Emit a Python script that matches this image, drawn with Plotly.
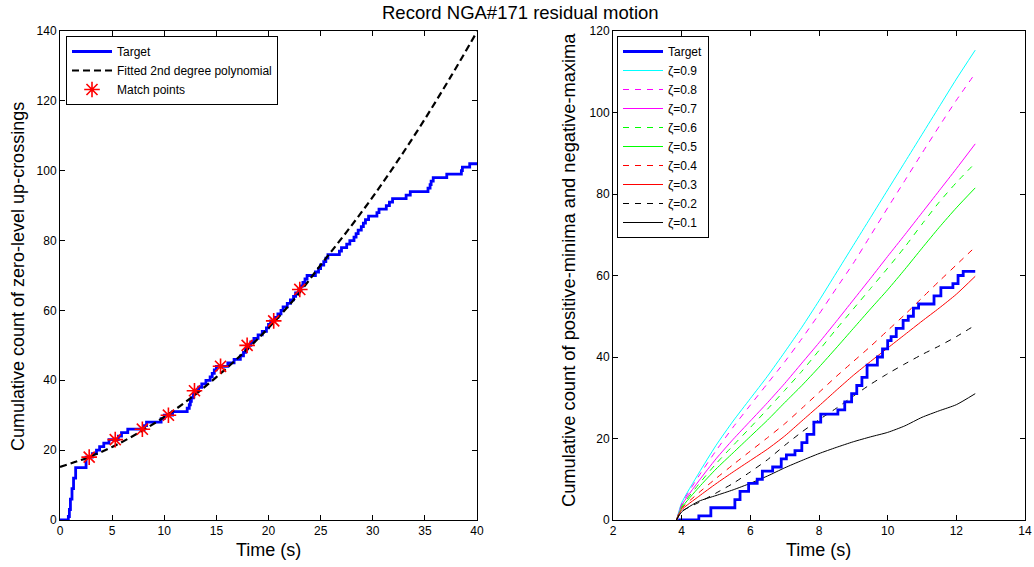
import plotly.graph_objects as go

# ---------------- Left panel data ----------------
target_t = [0, 0.8, 0.9, 1.0, 1.15, 1.3, 1.5, 2.5, 3.1, 3.5, 3.8, 4.2, 4.7, 5.6, 5.9, 6.5,
            8.1, 8.3, 9.7, 10.0, 10.8, 12.2, 12.4, 12.5, 12.6, 12.8, 12.9, 13.3, 13.6, 14.0,
            14.4, 14.6, 14.8, 15.0, 16.1, 16.7, 17.3, 17.6, 17.8, 18.0, 18.3, 18.6, 19.0,
            19.4, 19.8, 20.0, 20.2, 20.6, 20.9, 21.2, 21.4, 21.8, 22.1, 22.4, 22.6, 22.9,
            23.1, 23.3, 23.5, 23.7, 24.5, 24.8, 25.0, 25.3, 25.5, 25.7, 26.8, 27.0, 27.5,
            27.8, 28.2, 28.4, 28.6, 28.9, 29.1, 29.3, 29.6, 30.4, 30.6, 31.3, 31.6, 31.9,
            33.2, 33.6, 35.3, 35.5, 35.6, 35.8, 37.1, 38.5, 38.6, 39.3, 40.0]
target_n = [0, 1, 3, 6, 9, 12, 15, 18, 19, 20, 21, 22, 23, 24, 25, 26,
            27, 28, 29, 30, 31, 32, 33, 34, 35, 36, 37, 38, 39, 40,
            41, 42, 43, 44, 45, 46, 47, 48, 49, 50, 51, 52, 53,
            54, 55, 56, 57, 58, 59, 60, 61, 62, 63, 64, 65, 66,
            67, 68, 69, 70, 71, 72, 73, 74, 75, 76, 77, 78, 79,
            80, 81, 82, 83, 84, 85, 86, 87, 88, 89, 90, 91, 92,
            93, 94, 95, 96, 97, 98, 99, 100, 101, 102, 102]

fit_t = [0, 2.5, 5, 7.5, 10, 12.5, 15, 17.5, 20, 22.5, 25, 27.5, 30, 32.5, 35, 37.5, 40]
fit_n = [15.2, 17.7, 20.9, 24.9, 29.5, 34.8, 40.9, 47.6, 55.0, 63.3, 73.0, 82.5, 92.5,
         103.3, 114.8, 127.0, 139.8]

match_t = [2.8, 5.3, 7.9, 10.4, 12.9, 15.4, 17.95, 20.5, 23.0]
match_n = [18, 23, 26, 30, 37, 44, 50, 57, 66]

# ---------------- Right panel data ----------------
rt_t = [3.9, 4.5, 4.85, 5.55, 5.7, 5.95, 6.2, 6.35, 6.65, 6.9, 7.05, 7.3, 7.5, 7.65, 7.85,
        8.05, 8.55, 8.75, 8.95, 9.1, 9.25, 9.4, 9.7, 9.85, 10.0, 10.1, 10.25, 10.45, 10.6,
        10.75, 10.9, 11.35, 11.55, 11.9, 12.05, 12.2, 12.55]
rt_n = [0, 1, 3, 5, 7, 9, 10, 12, 13, 15, 16, 17, 19, 21, 24,
        26, 27, 29, 31, 33, 35, 38, 40, 42, 44, 45, 47, 49, 50,
        52, 53, 55, 57, 58, 60, 61, 61]

zeta_t = [3.85, 4.0, 4.5, 5.0, 5.5, 6.0, 6.5, 7.0, 7.5, 8.0, 8.5, 9.0, 9.5, 10.0, 10.5,
          11.0, 11.5, 12.0, 12.55]
z09 = [0, 4.2, 11.5, 18.3, 24.3, 29.8, 35.3, 41.2, 47.3, 53.8, 60.6, 67.4, 74.2, 81.0, 87.8, 94.6, 101.4, 108.2, 115.3]
z08 = [0, 3.9, 10.8, 17.0, 22.8, 28.2, 33.5, 38.8, 44.5, 50.5, 56.8, 63.0, 69.8, 76.6, 83.3, 90.0, 96.6, 103.0, 109.6]
z07 = [0, 3.6, 9.6, 15.0, 19.8, 24.3, 28.8, 33.5, 38.5, 43.5, 48.7, 54.0, 59.3, 64.7, 70.0, 75.4, 80.8, 86.2, 92.3]
z06 = [0, 3.3, 8.8, 13.8, 18.3, 22.7, 27.2, 31.8, 36.5, 41.6, 46.8, 51.8, 56.8, 61.8, 67.0, 72.6, 78.0, 82.8, 87.6]
z05 = [0, 3.0, 8.0, 12.5, 16.5, 20.5, 24.5, 28.8, 33.0, 37.5, 42.2, 47.0, 51.8, 56.5, 61.5, 66.7, 71.8, 76.6, 81.5]
z04 = [0, 2.8, 6.7, 10.2, 13.6, 16.9, 20.2, 23.6, 27.4, 31.3, 35.2, 38.9, 42.6, 46.5, 50.4, 54.5, 58.6, 62.6, 67.0]
z03 = [0, 2.5, 5.8, 8.9, 11.8, 14.6, 17.4, 20.6, 24.3, 28.0, 31.8, 35.5, 38.9, 42.2, 45.5, 48.8, 52.0, 55.4, 59.8]
z02 = [0, 2.1, 4.3, 6.6, 9.0, 11.8, 14.8, 18.3, 21.6, 24.6, 27.4, 30.4, 33.3, 35.9, 38.3, 40.6, 42.7, 45.0, 47.8]
z01 = [0, 2.0, 4.6, 6.0, 7.4, 9.0, 10.8, 12.8, 14.6, 16.3, 17.8, 19.2, 20.4, 21.5, 23.1, 25.2, 26.8, 28.3, 31.0]

zeta_labels = ["ζ=0.9", "ζ=0.8", "ζ=0.7", "ζ=0.6", "ζ=0.5", "ζ=0.4", "ζ=0.3", "ζ=0.2", "ζ=0.1"]
zeta_values = [z09, z08, z07, z06, z05, z04, z03, z02, z01]
zeta_colors = ["#00ffff", "#ff00ff", "#ff00ff", "#00ff00", "#00ff00", "#ff0000", "#ff0000", "#000000", "#000000"]
zeta_dash = ["solid", "6px,6px", "solid", "6px,6px", "solid", "6px,6px", "solid", "6px,6px", "solid"]

FONT = "Liberation Sans, Arial, sans-serif"
fig = go.Figure()

# Left panel
fig.add_trace(go.Scatter(x=target_t, y=target_n, mode="lines", line_shape="hv",
                         line=dict(color="#0000ff", width=2.8), name="Target",
                         xaxis="x", yaxis="y", legend="legend"))
fig.add_trace(go.Scatter(x=fit_t, y=fit_n, mode="lines", line_shape="spline",
                         line=dict(color="black", width=2.2, dash="7px,4px"),
                         name="Fitted 2nd degree polynomial",
                         xaxis="x", yaxis="y", legend="legend"))
fig.add_trace(go.Scatter(x=match_t, y=match_n, mode="markers",
                         marker=dict(symbol="asterisk-open", size=13, color="#ff0000",
                                     line=dict(color="#ff0000", width=1.6)),
                         name="Match points", xaxis="x", yaxis="y", legend="legend"))

# Right panel
for i, (lab, vals, col, dsh) in enumerate(zip(zeta_labels, zeta_values, zeta_colors, zeta_dash)):
    fig.add_trace(go.Scatter(x=zeta_t, y=vals, mode="lines",
                             line=dict(color=col, width=1, dash=dsh, shape="spline", smoothing=0.6),
                             name=lab, xaxis="x2", yaxis="y2", legend="legend2", legendrank=10 + i))
fig.add_trace(go.Scatter(x=rt_t, y=rt_n, mode="lines", line_shape="hv",
                         line=dict(color="#0000ff", width=2.8), name="Target",
                         xaxis="x2", yaxis="y2", legend="legend2", legendrank=1))

ax_common = dict(showline=True, linecolor="black", linewidth=1, mirror="allticks",
                 ticks="inside", ticklen=5, tickcolor="black", showgrid=False, zeroline=False,
                 automargin=False, ticklabeloverflow="allow",
                 tickfont=dict(family=FONT, size=12, color="black"))

y0, y1 = (567 - 520) / 567, (567 - 31) / 567
fig.update_layout(
    template="none",
    width=1034, height=567,
    margin=dict(l=0, r=0, t=0, b=0, pad=0, autoexpand=False),
    paper_bgcolor="white", plot_bgcolor="white",
    font=dict(family=FONT, size=12, color="black"),
    xaxis=dict(domain=[60 / 1034, 477 / 1034], range=[0, 40], tickvals=list(range(0, 41, 5)),
               anchor="y", **ax_common),
    yaxis=dict(domain=[y0, y1], range=[0, 140], tickvals=list(range(0, 141, 20)),
               anchor="x", **ax_common),
    xaxis2=dict(domain=[613 / 1034, 1025 / 1034], range=[2, 14], tickvals=list(range(2, 15, 2)),
                anchor="y2", **ax_common),
    yaxis2=dict(domain=[y0, y1], range=[0, 120], tickvals=list(range(0, 121, 20)),
                anchor="x2", **ax_common),
    legend=dict(x=66 / 1034, y=1 - 36 / 567, xanchor="left", yanchor="top",
                bgcolor="white", bordercolor="black", borderwidth=1,
                font=dict(family=FONT, size=12), itemwidth=40, tracegroupgap=0),
    legend2=dict(x=617 / 1034, y=1 - 36 / 567, xanchor="left", yanchor="top",
                 bgcolor="white", bordercolor="black", borderwidth=1,
                 font=dict(family=FONT, size=12), itemwidth=40, tracegroupgap=0),
    showlegend=True,
    annotations=[
        dict(text="Record NGA#171 residual motion", x=520 / 1034, y=1 - 13 / 567,
             xref="paper", yref="paper", showarrow=False, xanchor="center", yanchor="middle",
             font=dict(family=FONT, size=18.5)),
        dict(text="Time (s)", x=268 / 1034, y=1 - 550 / 567, xref="paper", yref="paper",
             showarrow=False, xanchor="center", yanchor="middle", font=dict(family=FONT, size=18)),
        dict(text="Time (s)", x=818 / 1034, y=1 - 550 / 567, xref="paper", yref="paper",
             showarrow=False, xanchor="center", yanchor="middle", font=dict(family=FONT, size=18)),
        dict(text="Cumulative count of zero-level up-crossings", x=18 / 1034, y=1 - 277 / 567,
             xref="paper", yref="paper", showarrow=False, textangle=-90,
             xanchor="center", yanchor="middle", font=dict(family=FONT, size=18)),
        dict(text="Cumulative count of positive-minima and negative-maxima", x=568 / 1034,
             y=1 - 270 / 567, xref="paper", yref="paper", showarrow=False, textangle=-90,
             xanchor="center", yanchor="middle", font=dict(family=FONT, size=18.3)),
    ],
)

fig.write_html("out.html")
